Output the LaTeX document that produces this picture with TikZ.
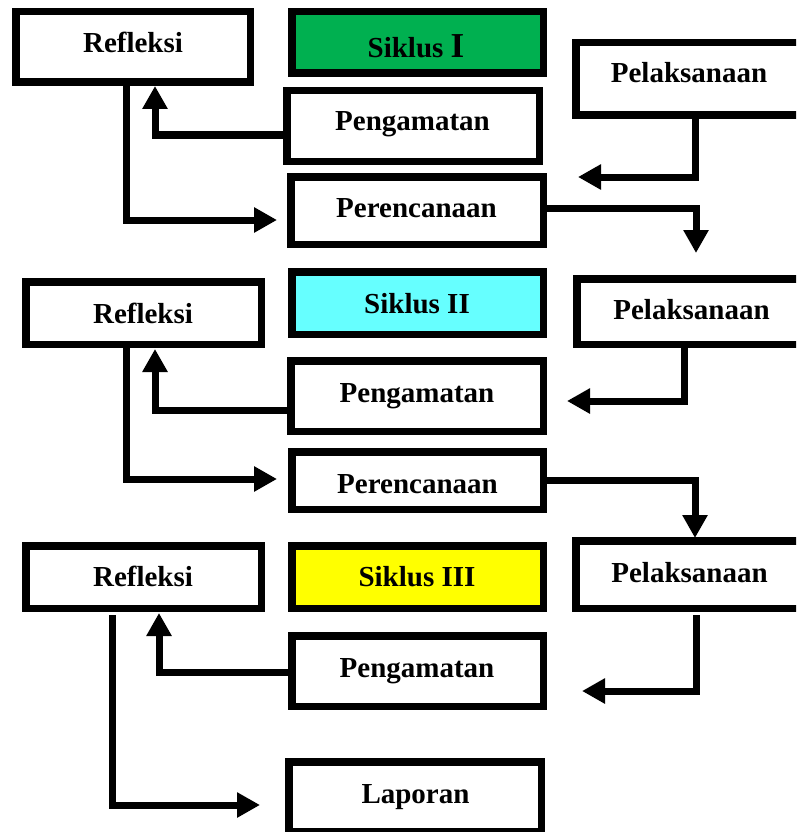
\documentclass[tikz,border=0pt]{standalone}
\usepackage{fontspec}
\setmainfont{Liberation Serif}
\usetikzlibrary{arrows.meta}
\definecolor{sgreen}{HTML}{00B050}
\definecolor{scyan}{HTML}{66FFFF}
\definecolor{syellow}{HTML}{FFFF00}
\tikzset{
  box/.style={draw=black, line width=7.5pt, rectangle, inner sep=0pt, fill=white},
  lbl/.style={anchor=base, inner sep=0pt, font=\fontsize{29}{34}\selectfont\bfseries},
  ln/.style={line width=7pt, draw=black},
  arr/.style={ln, -{Triangle[length=23pt,width=24pt]}},
}
\begin{document}
\begin{tikzpicture}[x=1pt,y=-1pt]
\clip (0,0) rectangle (796,832);
\fill[white] (0,0) rectangle (796,832);
% ---------- Siklus I ----------
\node[box, minimum width=234.5pt, minimum height=70.5pt] (R1) at (133,47) {};
\node[box, fill=sgreen, minimum width=251.5pt, minimum height=61.5pt] (S1) at (417.5,42.5) {};
\node[box, minimum width=252.5pt, minimum height=70.5pt] (G1) at (413,126) {};
\node[box, minimum width=252.5pt, minimum height=67.5pt] (P1) at (417,210.5) {};
\node[box, minimum width=228.5pt, minimum height=72.5pt] (L1) at (690,79) {};
% ---------- Siklus II ----------
\node[box, minimum width=235.5pt, minimum height=62.5pt] (R2) at (143.5,313) {};
\node[box, fill=scyan, minimum width=251.5pt, minimum height=62.5pt] (S2) at (417.5,303) {};
\node[box, minimum width=252.5pt, minimum height=70.5pt] (G2) at (417,396) {};
\node[box, minimum width=251.5pt, minimum height=57.5pt] (P2) at (417.5,480.5) {};
\node[box, minimum width=227.5pt, minimum height=65.5pt] (L2) at (690.5,311.5) {};
% ---------- Siklus III ----------
\node[box, minimum width=235.5pt, minimum height=62.5pt] (R3) at (143.5,577) {};
\node[box, fill=syellow, minimum width=251.5pt, minimum height=62.5pt] (S3) at (417.5,577) {};
\node[box, minimum width=251.5pt, minimum height=70.5pt] (G3) at (417.5,671) {};
\node[box, minimum width=228.5pt, minimum height=67.5pt] (L3) at (690,574.5) {};
\node[box, minimum width=252.5pt, minimum height=69.5pt] (Lap) at (415,796.5) {};
% ---------- labels ----------
\node[lbl] (tR1) at (133,53) {Refleksi};
\node[lbl] (tS1) at (416,58) {Siklus {\fontsize{35}{40}\selectfont I}};
\node[lbl] (tG1) at (412.5,131) {Pengamatan};
\node[lbl] (tP1) at (416.5,217) {Perencanaan};
\node[lbl] (tL1) at (689,83) {Pelaksanaan};
\node[lbl] (tR2) at (143,323) {Refleksi};
\node[lbl] (tS2) at (417,313) {Siklus II};
\node[lbl] (tG2) at (417,402) {Pengamatan};
\node[lbl] (tP2) at (417.5,493) {Perencanaan};
\node[lbl] (tL2) at (691.5,319) {Pelaksanaan};
\node[lbl] (tR3) at (143,586) {Refleksi};
\node[lbl] (tS3) at (417,586) {Siklus III};
\node[lbl] (tG3) at (417,677) {Pengamatan};
\node[lbl] (tL3) at (689.5,582) {Pelaksanaan};
\node[lbl] (tLap) at (415.5,803) {Laporan};
% ---------- helper coordinates ----------
\coordinate (v126) at (126,0);
\coordinate (v695) at (695,0);
\coordinate (v684) at (684,0);
\coordinate (h135) at (0,135);
\coordinate (h208) at (0,208);
\coordinate (h410) at (0,410);
\coordinate (h480) at (0,480);
\coordinate (h672) at (0,672);
\coordinate (t1a) at (277,220);
\coordinate (t1b) at (155,86);
\coordinate (t1c) at (578,177);
\coordinate (t1d) at (696,253);
\coordinate (t2a) at (277,479);
\coordinate (t2b) at (155,349);
\coordinate (t2c) at (567,401);
\coordinate (t2d) at (695,538);
\coordinate (s3a) at (112,615);
\coordinate (t3a) at (260,805);
\coordinate (t3b) at (159,613);
\coordinate (s3c) at (696,615);
\coordinate (t3c) at (582,691);
% ---------- connectors ----------
\draw[arr] (R1.south -| v126) |- (t1a);
\draw[arr] (G1.west |- h135) -| (t1b);
\draw[arr] (L1.south -| v695) |- (t1c);
\draw[arr] (P1.east |- h208) -| (t1d);
\draw[arr] (R2.south -| v126) |- (t2a);
\draw[arr] (G2.west |- h410) -| (t2b);
\draw[arr] (L2.south -| v684) |- (t2c);
\draw[arr] (P2.east |- h480) -| (t2d);
\draw[arr] (s3a) |- (t3a);
\draw[arr] (G3.west |- h672) -| (t3b);
\draw[arr] (s3c) |- (t3c);
\end{tikzpicture}
\end{document}
